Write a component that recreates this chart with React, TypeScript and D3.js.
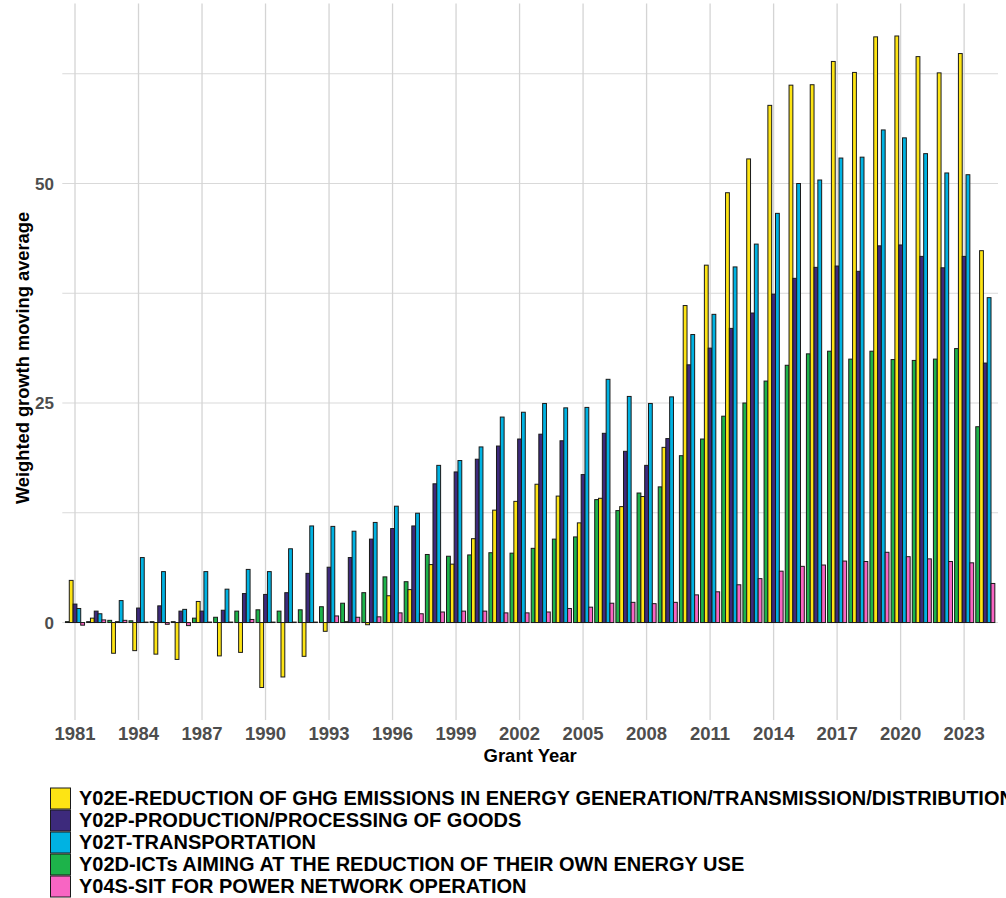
import React from 'react';
import * as d3 from 'd3';

// Grant years 1981..2024
const years: number[] = d3.range(1981, 2025);

const seriesKeys = ['Y02D', 'Y02E', 'Y02P', 'Y02T', 'Y04S'];

const seriesLabels: Record<string, string> = {
  Y02E: 'Y02E-REDUCTION OF GHG EMISSIONS IN ENERGY GENERATION/TRANSMISSION/DISTRIBUTION',
  Y02P: 'Y02P-PRODUCTION/PROCESSING OF GOODS',
  Y02T: 'Y02T-TRANSPORTATION',
  Y02D: 'Y02D-ICTs AIMING AT THE REDUCTION OF THEIR OWN ENERGY USE',
  Y04S: 'Y04S-SIT FOR POWER NETWORK OPERATION',
};

const legendOrder = ['Y02E', 'Y02P', 'Y02T', 'Y02D', 'Y04S'];

const seriesColors: Record<string, string> = {
  Y02E: '#FDE414',
  Y02P: '#3D2A7C',
  Y02T: '#00B2E2',
  Y02D: '#1DB34A',
  Y04S: '#F865C3',
};

const y02d = [0.1, 0.1, 0.25, 0.2, 0.1, 0.1, 0.5, 0.6, 1.3, 1.45, 1.3, 1.45, 1.8, 2.2, 3.4, 5.2, 4.65, 7.75, 7.55, 7.7, 7.95, 7.9, 8.45, 9.5, 9.75, 14.0, 12.75, 14.75, 15.45, 19.0, 20.9, 23.5, 25.0, 27.5, 29.3, 30.6, 30.9, 30.0, 30.9, 29.95, 29.85, 30.0, 31.2, 22.3];
const y02e = [4.8, 0.5, -3.5, -3.2, -3.6, -4.2, 2.4, -3.8, -3.4, -7.4, -6.2, -3.85, -1.0, 0.1, -0.25, 3.05, 3.75, 6.6, 6.65, 9.55, 12.8, 13.8, 15.75, 14.4, 11.35, 14.15, 13.2, 14.35, 19.95, 36.1, 40.7, 48.95, 52.8, 58.9, 61.2, 61.25, 63.9, 62.65, 66.7, 66.8, 64.45, 62.6, 64.8, 42.35];
const y02p = [2.1, 1.3, 0.1, 1.65, 1.9, 1.3, 1.3, 1.4, 3.3, 3.2, 3.4, 5.6, 6.3, 7.4, 9.5, 10.7, 11.0, 15.8, 17.15, 18.6, 20.1, 20.9, 21.45, 20.7, 16.85, 21.55, 19.5, 17.9, 20.95, 29.35, 31.25, 33.5, 35.25, 37.4, 39.2, 40.45, 40.6, 40.0, 42.9, 43.0, 41.7, 40.4, 41.7, 29.55];
const y02t = [1.6, 1.0, 2.5, 7.4, 5.8, 1.5, 5.8, 3.8, 6.05, 5.8, 8.4, 11.0, 10.95, 10.4, 11.4, 13.25, 12.45, 17.9, 18.45, 20.0, 23.4, 23.95, 24.95, 24.45, 24.5, 27.7, 25.75, 24.95, 25.7, 32.8, 35.1, 40.5, 43.1, 46.6, 50.0, 50.4, 52.9, 53.0, 56.1, 55.2, 53.4, 51.2, 51.0, 37.0];
const y04s = [-0.3, 0.3, 0.25, 0.05, -0.2, -0.35, 0.05, 0.05, 0.35, 0.05, 0.05, 0.05, 0.75, 0.6, 0.65, 1.1, 1.0, 1.2, 1.3, 1.3, 1.1, 1.1, 1.2, 1.6, 1.75, 2.2, 2.3, 2.15, 2.3, 3.15, 3.5, 4.3, 5.0, 5.85, 6.4, 6.55, 7.0, 6.95, 8.0, 7.5, 7.25, 6.95, 6.8, 4.45];

const seriesValues: Record<string, number[]> = {
  Y02D: y02d,
  Y02E: y02e,
  Y02P: y02p,
  Y02T: y02t,
  Y04S: y04s,
};

const xTickYears = d3.range(1981, 2024, 3);
const yMajor = [0, 25, 50];
const yMinor = [12.5, 37.5, 62.5];

const W = 1006;
const H = 898;
const panel = { left: 62.3, right: 998, top: 3.5, bottom: 720 };
const font = '"Liberation Sans", Arial, sans-serif';

const App: React.FC = () => {
  const x = d3.scaleBand<number>()
    .domain(years)
    .range([panel.left, panel.right])
    .paddingInner(0)
    .paddingOuter(0.1);

  const step = x.step();
  // dodge width 0.9 of each year band
  const inner = d3.scaleBand<string>()
    .domain(seriesKeys)
    .range([step * 0.05, step * 0.95]);

  const y = d3.scaleLinear().domain([-11.1, 70.5]).range([panel.bottom, panel.top]);

  const center = (yr: number) => (x(yr) ?? 0) + x.bandwidth() / 2;

  return (
    <svg width={W} height={H} style={{ position: 'absolute', left: 0, top: 0, background: '#fff' }}>
      {/* grid */}
      <g>
        {yMinor.map(v => (
          <line key={'mn' + v} x1={panel.left} x2={panel.right} y1={y(v)} y2={y(v)} stroke="#d9d9d9" strokeWidth={1.1} />
        ))}
        {yMajor.map(v => (
          <line key={'mj' + v} x1={panel.left} x2={panel.right} y1={y(v)} y2={y(v)} stroke="#d9d9d9" strokeWidth={1.1} />
        ))}
        {xTickYears.map(yr => (
          <line key={'vx' + yr} x1={center(yr)} x2={center(yr)} y1={panel.top} y2={panel.bottom} stroke="#d4d4d4" strokeWidth={1.3} />
        ))}
      </g>

      {/* bars */}
      <g>
        {years.map((yr, i) => (
          <g key={yr} transform={`translate(${x(yr)},0)`}>
            {seriesKeys.map(k => {
              const v = seriesValues[k][i];
              const y0 = y(0);
              const y1 = y(v);
              return (
                <rect
                  key={k}
                  x={inner(k)}
                  width={inner.bandwidth()}
                  y={Math.min(y0, y1)}
                  height={Math.abs(y1 - y0)}
                  fill={seriesColors[k]}
                  stroke="#1a1a1a"
                  strokeWidth={1}
                />
              );
            })}
          </g>
        ))}
      </g>

      {/* y tick labels */}
      <g fontFamily={font} fontWeight="bold" fontSize={17} fill="#4d4d4d">
        {yMajor.map(v => (
          <text key={v} x={54} y={y(v)} dy="0.36em" textAnchor="end">{v}</text>
        ))}
      </g>

      {/* x tick labels */}
      <g fontFamily={font} fontWeight="bold" fontSize={18.5} fill="#4d4d4d">
        {xTickYears.map(yr => (
          <text key={yr} x={center(yr)} y={739.5} textAnchor="middle">{yr}</text>
        ))}
      </g>

      {/* axis titles */}
      <text x={(panel.left + panel.right) / 2} y={761.5} textAnchor="middle" fontFamily={font} fontWeight="bold" fontSize={18.5} fill="#000">Grant Year</text>
      <text transform={`translate(29,358) rotate(-90)`} textAnchor="middle" fontFamily={font} fontWeight="bold" fontSize={18.3} fill="#000">Weighted growth moving average</text>

      {/* legend (first label runs past the right edge, as in the original) */}
      <g fontFamily={font} fontWeight="bold" fontSize={20} fill="#000">
        {legendOrder.map((k, i) => {
          const top = 788 + i * 22;
          return (
            <g key={k}>
              <rect x={50.5} y={top} width={20} height={21} fill={seriesColors[k]} stroke="#1a1a1a" strokeWidth={1} />
              <text x={79} y={top + 10} dy="0.36em">{seriesLabels[k]}</text>
            </g>
          );
        })}
      </g>
    </svg>
  );
};

export default App;
